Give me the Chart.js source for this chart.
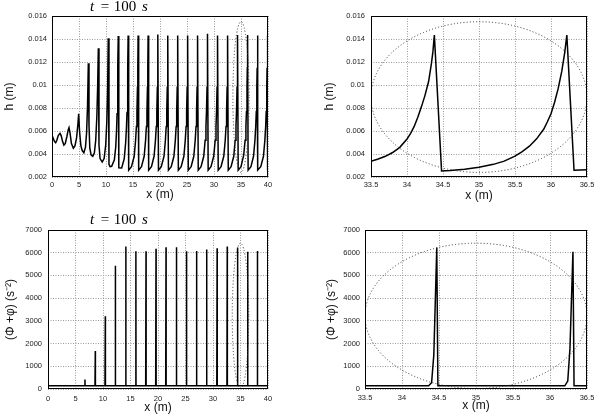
<!DOCTYPE html>
<html>
<head>
<meta charset="utf-8">
<script src="https://cdn.jsdelivr.net/npm/chart.js@4.4.0/dist/chart.umd.min.js"></script>
<style>
  body { margin: 0; background: #fff; width: 599px; height: 414px; overflow: hidden; }
  .panel { position: absolute; }
</style>
</head>
<body>
<div class="panel" style="left:0;top:0;width:300px;height:207px"><canvas id="hWideChart"></canvas></div>
<div class="panel" style="left:300px;top:0;width:299px;height:207px"><canvas id="hZoomChart"></canvas></div>
<div class="panel" style="left:0;top:207px;width:300px;height:207px"><canvas id="phiWideChart"></canvas></div>
<div class="panel" style="left:300px;top:207px;width:299px;height:207px"><canvas id="phiZoomChart"></canvas></div>
<script>
// water depth h (m) along the channel at t = 100 s, [x, h]
const hWide = [
  [0, 0.00565], [0.2, 0.0054], [0.45, 0.0051], [0.68, 0.00498], [0.9, 0.0052], [1.15, 0.0056],
  [1.48, 0.0058], [1.7, 0.0056], [1.95, 0.0051], [2.2, 0.00478], [2.45, 0.0049], [2.75, 0.0055],
  [3.0, 0.0061], [3.15, 0.0063], [3.35, 0.0058], [3.6, 0.0049], [3.95, 0.0045], [4.25, 0.0047],
  [4.55, 0.0054], [4.8, 0.0066], [4.94, 0.0075], [5.1, 0.006], [5.35, 0.0047], [5.6, 0.0043],
  [5.9, 0.0041], [6.2, 0.0046], [6.4, 0.0058], [6.58, 0.0082], [6.73, 0.0119], [6.85, 0.0065],
  [7.0, 0.0045], [7.25, 0.0039], [7.55, 0.0038], [7.85, 0.0041], [8.1, 0.0052], [8.3, 0.0072],
  [8.45, 0.0098], [8.58, 0.0132], [8.7, 0.0048], [8.9, 0.0036], [9.3, 0.0033], [9.65, 0.0036],
  [9.95, 0.0048], [10.15, 0.0068], [10.3, 0.0097], [10.42, 0.01406],
  [10.55, 0.0031], [10.75, 0.0029], [11.05, 0.00293], [11.55, 0.0035], [11.8, 0.0046], [11.95, 0.006], [12.05, 0.0075], [12.15, 0.0098], [12.21, 0.0116], [12.27, 0.01426],
  [12.37, 0.0028], [12.9, 0.00278], [13.38, 0.0036], [13.64, 0.005], [13.79, 0.0063], [13.89, 0.0076], [13.99, 0.0097], [14.05, 0.0114], [14.1, 0.0143],
  [14.2, 0.0026], [14.72, 0.0029], [15.22, 0.0038], [15.48, 0.0052], [15.63, 0.0064], [15.73, 0.0077], [15.83, 0.0098], [15.89, 0.0115], [15.95, 0.0143],
  [16.05, 0.0026], [16.57, 0.0029], [17.07, 0.0038], [17.33, 0.0052], [17.48, 0.0064], [17.58, 0.0077], [17.68, 0.0098], [17.74, 0.0115], [17.8, 0.0143],
  [17.9, 0.0026], [18.42, 0.0029], [18.9, 0.0038], [19.16, 0.0052], [19.31, 0.0064], [19.41, 0.0077], [19.51, 0.0098], [19.57, 0.0115], [19.62, 0.0144],
  [19.72, 0.0026], [20.24, 0.0029], [20.74, 0.0038], [21.0, 0.0052], [21.15, 0.0064], [21.25, 0.0077], [21.35, 0.0098], [21.41, 0.0115], [21.46, 0.0143],
  [21.56, 0.0026], [22.08, 0.0029], [22.58, 0.0038], [22.84, 0.0052], [22.99, 0.0064], [23.09, 0.0077], [23.19, 0.0098], [23.25, 0.0115], [23.3, 0.0143],
  [23.4, 0.0026], [23.92, 0.0029], [24.42, 0.0038], [24.68, 0.0052], [24.83, 0.0064], [24.93, 0.0077], [25.03, 0.0098], [25.09, 0.0115], [25.14, 0.0143],
  [25.24, 0.0026], [25.76, 0.0029], [26.26, 0.0038], [26.52, 0.0052], [26.67, 0.0064], [26.77, 0.0077], [26.87, 0.0098], [26.93, 0.0115], [26.98, 0.0143],
  [27.08, 0.0026], [27.6, 0.0029], [28.1, 0.0038], [28.36, 0.0052], [28.51, 0.0064], [28.61, 0.0077], [28.71, 0.0098], [28.77, 0.0115], [28.82, 0.01445],
  [28.92, 0.0026], [29.44, 0.0029], [29.95, 0.0038], [30.22, 0.0052], [30.37, 0.0064], [30.47, 0.0077], [30.57, 0.0098], [30.63, 0.0115], [30.68, 0.0143],
  [30.78, 0.0026], [31.3, 0.0029], [31.81, 0.0038], [32.08, 0.0052], [32.23, 0.0064], [32.33, 0.0077], [32.43, 0.0098], [32.49, 0.0115], [32.54, 0.0143],
  [32.64, 0.0026], [33.16, 0.0029], [33.66, 0.0038], [33.92, 0.0052], [34.07, 0.0064], [34.17, 0.0077], [34.27, 0.0098], [34.33, 0.0115], [34.38, 0.01434],
  [34.48, 0.0026], [35.0, 0.0029], [35.5, 0.0039], [35.76, 0.0052], [35.91, 0.0064], [36.01, 0.0077], [36.11, 0.0098], [36.17, 0.0115], [36.22, 0.01434],
  [36.32, 0.0026], [36.84, 0.0029], [37.32, 0.0038], [37.58, 0.0052], [37.73, 0.0064], [37.83, 0.0077], [37.93, 0.0098], [37.99, 0.0115], [38.04, 0.0143],
  [38.14, 0.0026], [38.66, 0.0029], [39.16, 0.0038], [39.42, 0.0052], [39.57, 0.0064], [39.67, 0.0077], [39.77, 0.0098], [39.83, 0.0115], [39.88, 0.0143],
  [39.98, 0.0026], [40, 0.0026]
];

// same curve (33.5 - 36.5 m)
const hZoom = [
  [33.5, 0.00337], [33.6, 0.00356], [33.7, 0.0038], [33.8, 0.00413], [33.9, 0.00458], [34.0, 0.0053],
  [34.05, 0.0058], [34.1, 0.0064], [34.15, 0.0072], [34.2, 0.0081], [34.25, 0.0091], [34.3, 0.0103],
  [34.34, 0.0119], [34.36, 0.0129], [34.38, 0.01434], [34.48, 0.00252], [34.6, 0.00256], [34.8, 0.00267],
  [35.0, 0.00285], [35.2, 0.0031], [35.35, 0.00338], [35.5, 0.00382], [35.6, 0.0042], [35.7, 0.00468],
  [35.8, 0.00532], [35.9, 0.00617], [35.95, 0.0068], [36.0, 0.0075], [36.05, 0.0085], [36.1, 0.0097],
  [36.15, 0.0112], [36.19, 0.0128], [36.22, 0.01434], [36.32, 0.00258], [36.5, 0.00264]
];

// (Phi + phi) in s^-2, [x, value]
const phiWide = [
  [0, 140],
  [6.66, 140], [6.72, 420], [6.74, 140],
  [8.54, 140], [8.6, 1670], [8.62, 140],
  [10.36, 140], [10.42, 3200], [10.44, 140],
  [12.19, 140], [12.25, 5430], [12.27, 140],
  [14.09, 140], [14.15, 6270], [14.17, 140],
  [15.92, 140], [15.98, 6060], [16.0, 140],
  [17.76, 140], [17.82, 6060], [17.84, 140],
  [19.58, 140], [19.64, 6170], [19.66, 140],
  [21.4, 140], [21.46, 6240], [21.48, 140],
  [23.3, 140], [23.36, 6240], [23.38, 140],
  [25.13, 140], [25.19, 6060], [25.21, 140],
  [26.96, 140], [27.02, 6080], [27.04, 140],
  [28.79, 140], [28.85, 6140], [28.87, 140],
  [30.69, 140], [30.75, 6200], [30.77, 140],
  [32.53, 140], [32.59, 6270], [32.61, 140],
  [34.41, 140], [34.47, 6230], [34.49, 140],
  [36.25, 140], [36.31, 6040], [36.33, 140],
  [38.02, 140], [38.08, 6080], [38.1, 140],
  [40, 140]
];

const phiZoom = [
  [33.5, 140], [34.36, 140], [34.4, 280], [34.43, 1500], [34.47, 6230], [34.485, 140],
  [36.2, 140], [36.24, 350], [36.27, 1800], [36.31, 6040], [36.325, 140], [36.5, 140]
];

const xTicksWide = [0, 5, 10, 15, 20, 25, 30, 35, 40];
const xTicksZoom = [33.5, 34, 34.5, 35, 35.5, 36, 36.5];
const hTicks = [0.002, 0.004, 0.006, 0.008, 0.01, 0.012, 0.014, 0.016];
const phiTicks = [0, 1000, 2000, 3000, 4000, 5000, 6000, 7000];

// dotted ellipse around the zoomed window
const zoomX = [33.5, 36.5];
const zoomH = [0.0024, 0.0155];
const zoomPhi = [20, 6420];

const tickFont = { family: 'Liberation Sans', size: 7.5 };
const axisFont = { family: 'Liberation Sans', size: 12, lineHeight: 1 };
const gridColor = '#9a9a9a';

function fmt(v) {
  return String(Number(v.toFixed(4)));
}

function framePlugin() {
  return {
    id: 'frame',
    afterDraw(chart) {
      const a = chart.chartArea;
      const ctx = chart.ctx;
      ctx.save();
      ctx.strokeStyle = '#000';
      ctx.lineWidth = 1;
      ctx.strokeRect(Math.round(a.left) + 0.5, Math.round(a.top) + 0.5,
        Math.round(a.right - a.left) - 1, Math.round(a.bottom - a.top) - 1);
      ctx.restore();
    }
  };
}

function ellipsePlugin(ex, ey) {
  return {
    id: 'zoomEllipse',
    afterDatasetsDraw(chart) {
      const xs = chart.scales.x, ys = chart.scales.y;
      const a = chart.chartArea;
      const x0 = xs.getPixelForValue(ex[0]), x1 = xs.getPixelForValue(ex[1]);
      const y0 = ys.getPixelForValue(ey[0]), y1 = ys.getPixelForValue(ey[1]);
      const ctx = chart.ctx;
      ctx.save();
      ctx.beginPath();
      ctx.rect(a.left, a.top, a.right - a.left, a.bottom - a.top);
      ctx.clip();
      ctx.beginPath();
      ctx.ellipse((x0 + x1) / 2, (y0 + y1) / 2, Math.abs(x1 - x0) / 2, Math.abs(y1 - y0) / 2, 0, 0, Math.PI * 2);
      ctx.setLineDash([1, 2.2]);
      ctx.lineWidth = 1;
      ctx.strokeStyle = '#333';
      ctx.stroke();
      ctx.restore();
    }
  };
}

function timePlugin(baseline) {
  return {
    id: 'timeLabel',
    afterDraw(chart) {
      const ctx = chart.ctx;
      ctx.save();
      ctx.fillStyle = '#000';
      ctx.textBaseline = 'alphabetic';
      ctx.textAlign = 'center';
      ctx.font = 'italic 15px "Liberation Serif"';
      ctx.fillText('t', 92, baseline);
      ctx.fillText('s', 145, baseline);
      ctx.font = '15px "Liberation Serif"';
      ctx.fillText('=', 105, baseline);
      ctx.fillText('100', 125, baseline);
      ctx.restore();
    }
  };
}

function makeChart(id, points, xTicks, yTicks, yTitle, ellY, L, timeBaseline) {
  const plugins = [framePlugin(), ellipsePlugin(zoomX, ellY)];
  if (timeBaseline) plugins.push(timePlugin(timeBaseline));
  return new Chart(document.getElementById(id), {
    type: 'scatter',
    data: {
      datasets: [{
        data: points,
        showLine: true,
        borderColor: '#000',
        borderWidth: 1.5,
        pointRadius: 0,
        tension: 0
      }]
    },
    options: {
      responsive: true,
      maintainAspectRatio: false,
      animation: false,
      layout: { padding: { top: L.top, right: L.right, left: 0, bottom: 0 } },
      plugins: { legend: { display: false }, tooltip: { enabled: false } },
      scales: {
        x: {
          type: 'linear',
          min: xTicks[0],
          max: xTicks[xTicks.length - 1],
          afterBuildTicks: s => { s.ticks = xTicks.map(v => ({ value: v })); },
          afterFit: s => { s.height = L.xHeight; },
          grid: { color: gridColor, drawTicks: false },
          border: { display: false, dash: [1, 1.5] },
          ticks: { padding: L.xTickPad, color: '#222', font: tickFont, maxRotation: 0, autoSkip: false, callback: v => fmt(v) },
          title: { display: true, text: 'x (m)', color: '#111', font: axisFont, padding: { top: 0, bottom: L.xTitlePad } }
        },
        y: {
          type: 'linear',
          min: yTicks[0],
          max: yTicks[yTicks.length - 1],
          afterBuildTicks: s => { s.ticks = yTicks.map(v => ({ value: v })); },
          afterFit: s => { s.width = L.yWidth; },
          grid: { color: gridColor, drawTicks: false },
          border: { display: false, dash: [1, 1.5] },
          ticks: { padding: L.yTickPad, color: '#222', font: tickFont, autoSkip: false, callback: v => fmt(v) },
          title: { display: true, text: yTitle, color: '#111', font: axisFont, padding: { top: L.yTitlePad, bottom: 0 } }
        }
      }
    },
    plugins: plugins
  });
}

makeChart('hWideChart', hWide, xTicksWide, hTicks, 'h (m)', zoomH,
  { top: 16, right: 32, yWidth: 52, xHeight: 30, xTickPad: 3, yTickPad: 5, xTitlePad: 6, yTitlePad: 4 }, 10.5);
makeChart('hZoomChart', hZoom, xTicksZoom, hTicks, 'h (m)', zoomH,
  { top: 16, right: 12, yWidth: 71, xHeight: 30, xTickPad: 3, yTickPad: 6, xTitlePad: 5, yTitlePad: 24 });
makeChart('phiWideChart', phiWide, xTicksWide, phiTicks, '(Φ +φ) (s⁻²)', zoomPhi,
  { top: 23, right: 32, yWidth: 48, xHeight: 25, xTickPad: 5, yTickPad: 6, xTitlePad: 0, yTitlePad: 5 }, 16.5);
makeChart('phiZoomChart', phiZoom, xTicksZoom, phiTicks, '(Φ +φ) (s⁻²)', zoomPhi,
  { top: 23, right: 12, yWidth: 65, xHeight: 25, xTickPad: 4, yTickPad: 5, xTitlePad: 2, yTitlePad: 26 });
</script>
</body>
</html>
